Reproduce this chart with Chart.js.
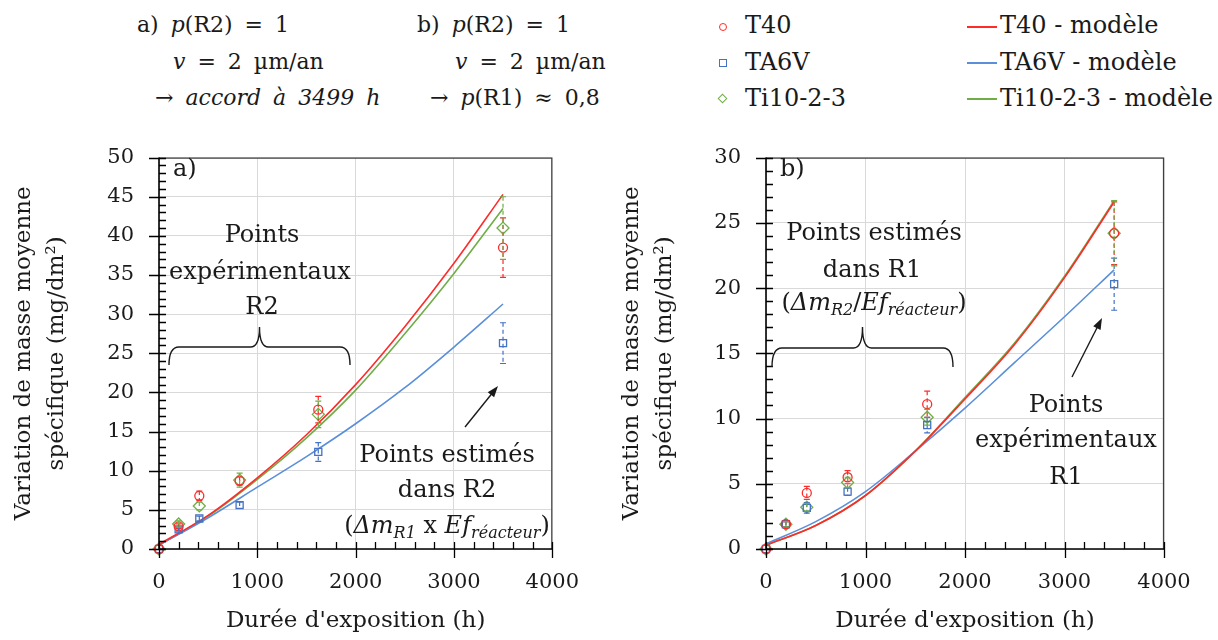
<!DOCTYPE html>
<html>
<head>
<meta charset="utf-8">
<script src="https://cdn.jsdelivr.net/npm/chart.js@4.4.0/dist/chart.umd.min.js"></script>
<style>
  body { margin: 0; background: #fff; width: 1218px; height: 640px; overflow: hidden; position: relative; font-family: "DejaVu Serif", serif; color: #1a1a1a; }
  canvas { position: absolute; }
  .t { position: absolute; white-space: pre; font-size: 22px; line-height: 22px; word-spacing: 5px; }
  .lg { position: absolute; white-space: pre; font-size: 24px; line-height: 24px; }
  .mk { position: absolute; box-sizing: border-box; }
  .ln { position: absolute; height: 2px; width: 30px; }
</style>
</head>
<body>
<!-- en-tetes des deux panneaux -->
<div class="t" style="left:137px;top:14px">a) <i>p</i>(R2) = 1</div>
<div class="t" style="left:173px;top:51px"><i>v</i> = 2 µm/an</div>
<div class="t" style="left:155px;top:87px">→ <i>accord à 3499 h</i></div>
<div class="t" style="left:417px;top:14px">b) <i>p</i>(R2) = 1</div>
<div class="t" style="left:455px;top:51px"><i>v</i> = 2 µm/an</div>
<div class="t" style="left:430px;top:87px">→ <i>p</i>(R1) ≈ 0,8</div>

<!-- legende -->
<div class="mk" style="left:719px;top:23px;width:8px;height:8px;border:1.3px solid #ff2a2a;border-radius:50%"></div>
<div class="mk" style="left:719px;top:59px;width:8px;height:8px;border:1.3px solid #4472c4"></div>
<div class="mk" style="left:719px;top:95px;width:7px;height:7px;border:1.3px solid #70ad47;transform:rotate(45deg)"></div>
<div class="lg" style="left:745px;top:13px">T40</div>
<div class="lg" style="left:745px;top:50px">TA6V</div>
<div class="lg" style="left:745px;top:86px">Ti10-2-3</div>
<div class="ln" style="left:967px;top:26px;background:#ff2a2a"></div>
<div class="ln" style="left:967px;top:62px;background:#5b8fd9"></div>
<div class="ln" style="left:967px;top:98px;background:#70ad47"></div>
<div class="lg" style="left:1000px;top:13px">T40 - modèle</div>
<div class="lg" style="left:1000px;top:50px">TA6V - modèle</div>
<div class="lg" style="left:1000px;top:86px">Ti10-2-3 - modèle</div>

<canvas id="chartA" width="600" height="520" style="left:0;top:120px"></canvas>
<canvas id="chartB" width="610" height="520" style="left:608px;top:120px"></canvas>

<script>
// durées d'exposition (h)
const xPts = [0, 200, 410, 820, 1620, 3499];
const xModel = [0, 500, 1000, 1500, 2000, 2500, 3000, 3499];
const xTicks = [0, 1000, 2000, 3000, 4000];

// a) p(R2) = 1 - points experimentaux R2
const aT40 = [0, 2.9, 6.8, 8.7, 17.8, 38.5];
const aT40Err = [0, 0.3, 0.6, 0.5, 1.7, 3.8];
const aTA6V = [0, 2.5, 3.9, 5.6, 12.4, 26.3];
const aTA6VErr = [0, 0.3, 0.3, 0.4, 1.2, 2.6];
const aTi = [0, 3.2, 5.5, 8.8, 17.2, 41.0];
const aTiErr = [0, 0.4, 0.5, 0.9, 1.7, 4.0];
const aT40Mod = [0.6, 4.3, 9.1, 14.6, 21.0, 28.4, 36.5, 45.3];
const aTA6VMod = [0.5, 4.0, 7.9, 11.8, 16.0, 20.6, 25.8, 31.3];
const aTiMod = [0.5, 4.2, 8.9, 14.2, 20.3, 27.5, 35.2, 43.5];
const aYTicks = [0, 5, 10, 15, 20, 25, 30, 35, 40, 45, 50];

// b) p(R1) ~ 0,8 - points experimentaux R1
const bT40 = [0, 1.9, 4.3, 5.5, 11.1, 24.2];
const bT40Err = [0, 0.2, 0.5, 0.5, 1.0, 2.4];
const bTA6V = [0, 1.9, 3.15, 4.4, 9.5, 20.3];
const bTA6VErr = [0, 0.2, 0.4, 0.3, 0.6, 2.0];
const bTi = [0, 1.9, 3.2, 5.1, 10.1, 24.2];
const bTiErr = [0, 0.2, 0.3, 0.4, 0.6, 2.5];
const bT40Mod = [0.3, 1.8, 4.1, 7.5, 11.5, 15.7, 20.8, 26.6];
const bTA6VMod = [0.4, 2.1, 4.4, 7.5, 10.8, 14.3, 17.8, 21.4];
const bTiMod = [0.3, 1.8, 4.1, 7.5, 11.6, 15.8, 20.9, 26.7];
const bYTicks = [0, 5, 10, 15, 20, 25, 30];

const RED = '#ff2a2a', BLUE = '#4472c4', BLUE_L = '#5b8fd9', GREEN = '#70ad47';
const F = '"DejaVu Serif", serif';
const INK = '#1a1a1a';

const pairs = (xs, ys) => xs.map((x, i) => ({ x: x, y: ys[i] }));

function pts(label, ys, err, color, style, r) {
  return { label, data: pairs(xPts, ys), errors: err, borderColor: color, backgroundColor: 'rgba(0,0,0,0)',
    pointStyle: style, pointRadius: r, pointBorderWidth: 1.3, showLine: false, clip: false, order: 0 };
}
function model(label, ys, color) {
  return { label, data: pairs(xModel, ys), borderColor: color, borderWidth: 1.6, pointRadius: 0,
    showLine: true, cubicInterpolationMode: 'monotone', clip: false, order: 1 };
}

// barres d'erreur (pointillés + petits chapeaux)
const errorBars = {
  id: 'errorBars',
  afterDatasetsDraw(chart) {
    const { ctx, scales: { x, y } } = chart;
    ctx.save();
    ctx.lineWidth = 1.2;
    chart.data.datasets.forEach(ds => {
      if (!ds.errors) return;
      ctx.strokeStyle = ds.borderColor;
      ds.data.forEach((p, i) => {
        const e = ds.errors[i];
        if (!e) return;
        const px = x.getPixelForValue(p.x);
        const y1 = y.getPixelForValue(p.y + e), y2 = y.getPixelForValue(p.y - e);
        ctx.setLineDash([4, 3]);
        ctx.beginPath(); ctx.moveTo(px, y1); ctx.lineTo(px, y2); ctx.stroke();
        ctx.setLineDash([]);
        ctx.beginPath();
        ctx.moveTo(px - 3, y1); ctx.lineTo(px + 3, y1);
        ctx.moveTo(px - 3, y2); ctx.lineTo(px + 3, y2);
        ctx.stroke();
      });
    });
    ctx.restore();
  }
};

// cadre + graduations vers l'intérieur
const frame = {
  id: 'frame',
  afterDraw(chart, args, opts) {
    const { ctx, chartArea: a, scales: { x, y } } = chart;
    ctx.save();
    ctx.strokeStyle = '#404040'; ctx.lineWidth = 1.2;
    ctx.beginPath();
    ctx.moveTo(a.left, a.top + 0.5); ctx.lineTo(a.right - 0.5, a.top + 0.5); ctx.lineTo(a.right - 0.5, a.bottom);
    ctx.stroke();
    ctx.strokeStyle = '#000'; ctx.lineWidth = 1.6;
    ctx.beginPath();
    ctx.moveTo(a.left, a.top); ctx.lineTo(a.left, a.bottom); ctx.lineTo(a.right, a.bottom);
    ctx.stroke();
    ctx.lineWidth = 1.3;
    ctx.beginPath();
    for (let v = x.min; v <= x.max + 1e-6; v += opts.minorX) {
      const px = Math.round(x.getPixelForValue(v)) + 0.5;
      const major = Math.abs(v % 1000) < 1e-6;
      ctx.moveTo(px, a.bottom - 7); ctx.lineTo(px, a.bottom + (major ? 9 : 0));
    }
    for (let v = y.min; v <= y.max + 1e-6; v += opts.minorY) {
      const py = Math.round(y.getPixelForValue(v)) + 0.5;
      const major = Math.abs(v % 5) < 1e-6;
      ctx.moveTo(a.left - (major ? 10 : 0), py); ctx.lineTo(a.left + 7, py);
    }
    ctx.stroke();
    ctx.restore();
  }
};

function rich(ctx, parts, cx, base) {
  let w = 0;
  parts.forEach(p => { ctx.font = p[1]; w += ctx.measureText(p[0]).width; });
  let x = cx - w / 2;
  parts.forEach(p => { ctx.font = p[1]; ctx.fillText(p[0], x, base + (p[2] || 0)); x += ctx.measureText(p[0]).width; });
}
function brace(ctx, x1, x2, yEnd, yMid, yPeak) {
  const xm = (x1 + x2) / 2;
  ctx.beginPath();
  ctx.moveTo(x1, yEnd);
  ctx.quadraticCurveTo(x1, yMid, x1 + 10, yMid);
  ctx.lineTo(xm - 9, yMid);
  ctx.quadraticCurveTo(xm, yMid, xm, yPeak);
  ctx.quadraticCurveTo(xm, yMid, xm + 9, yMid);
  ctx.lineTo(x2 - 10, yMid);
  ctx.quadraticCurveTo(x2, yMid, x2, yEnd);
  ctx.stroke();
}
function arrow(ctx, x1, y1, x2, y2) {
  const ang = Math.atan2(y2 - y1, x2 - x1), L = 12, W = 0.35;
  ctx.beginPath(); ctx.moveTo(x1, y1); ctx.lineTo(x2 - L * 0.8 * Math.cos(ang), y2 - L * 0.8 * Math.sin(ang)); ctx.stroke();
  ctx.beginPath();
  ctx.moveTo(x2, y2);
  ctx.lineTo(x2 - L * Math.cos(ang - W), y2 - L * Math.sin(ang - W));
  ctx.lineTo(x2 - L * Math.cos(ang + W), y2 - L * Math.sin(ang + W));
  ctx.closePath(); ctx.fill();
}

const R24 = `24px ${F}`, I24 = `italic 24px ${F}`, I16 = `italic 16px ${F}`;

const notesA = {
  id: 'notesA',
  afterDraw(chart) {
    const ctx = chart.ctx;
    ctx.save();
    ctx.fillStyle = INK; ctx.strokeStyle = INK; ctx.lineWidth = 1.4;
    ctx.textAlign = 'left'; ctx.textBaseline = 'alphabetic';
    ctx.font = R24; ctx.fillText('a)', 173, 56);
    rich(ctx, [['Points', R24]], 262, 122);
    rich(ctx, [['expérimentaux', R24]], 260, 159);
    rich(ctx, [['R2', R24]], 262, 194);
    brace(ctx, 169, 350, 245, 227, 207);
    arrow(ctx, 465, 307, 498, 266);
    rich(ctx, [['Points estimés', R24]], 447, 342);
    rich(ctx, [['dans R2', R24]], 447, 377);
    rich(ctx, [['(', R24], ['Δm', I24], ['R1', I16, 5], [' x ', R24], ['Ef', I24], ['réacteur', I16, 5], [')', R24]], 447, 413);
    ctx.restore();
  }
};
const notesB = {
  id: 'notesB',
  afterDraw(chart) {
    const ctx = chart.ctx;
    ctx.save();
    ctx.fillStyle = INK; ctx.strokeStyle = INK; ctx.lineWidth = 1.4;
    ctx.textAlign = 'left'; ctx.textBaseline = 'alphabetic';
    ctx.font = R24; ctx.fillText('b)', 172, 56);
    rich(ctx, [['Points estimés', R24]], 266, 120);
    rich(ctx, [['dans R1', R24]], 264, 157);
    rich(ctx, [['(', R24], ['Δm', I24], ['R2', I16, 5], ['/', R24], ['Ef', I24], ['réacteur', I16, 5], [')', R24]], 266, 190);
    brace(ctx, 164, 345, 247, 228, 207);
    arrow(ctx, 464, 257, 494, 198);
    rich(ctx, [['Points', R24]], 458, 292);
    rich(ctx, [['expérimentaux', R24]], 458, 327);
    rich(ctx, [['R1', R24]], 458, 364);
    ctx.restore();
  }
};

function makeChart(id, datasets, yMax, yWidth, padRight, notes) {
  return new Chart(document.getElementById(id), {
    type: 'scatter',
    data: { datasets },
    plugins: [errorBars, frame, notes],
    options: {
      responsive: false,
      animation: false,
      layout: { padding: { top: 19, right: padRight, left: 0, bottom: 0 } },
      plugins: { legend: { display: false }, tooltip: { enabled: false }, frame: { minorX: 200, minorY: 1 } },
      scales: {
        x: {
          min: 0, max: 4000,
          afterFit: s => { s.height = 91; },
          afterBuildTicks: s => { s.ticks = xTicks.map(v => ({ value: v })); },
          ticks: { callback: v => String(v), color: INK, padding: 21, font: { family: F, size: 21 }, maxRotation: 0 },
          grid: { color: '#d9d9d9', lineWidth: 1, drawTicks: false },
          border: { display: false },
          title: { display: true, text: "Durée d'exposition (h)", color: INK, font: { family: F, size: 23, lineHeight: 1.43 }, padding: { top: 0, bottom: 3 } }
        },
        y: {
          min: 0, max: yMax,
          afterFit: s => { s.width = yWidth; },
          afterBuildTicks: s => { s.ticks = (yMax === 50 ? aYTicks : bYTicks).map(v => ({ value: v })); },
          ticks: { callback: v => String(v), color: INK, padding: 25, font: { family: F, size: 21 } },
          grid: { color: '#d9d9d9', lineWidth: 1, drawTicks: false },
          border: { display: false },
          title: { display: true, text: ['Variation de masse moyenne', 'spécifique (mg/dm²)'], color: INK,
            font: { family: F, size: 23, lineHeight: 1.43 }, padding: { top: 8, bottom: 0 } }
        }
      }
    }
  });
}

makeChart('chartA', [
  pts('T40', aT40, aT40Err, RED, 'circle', 4.5),
  pts('TA6V', aTA6V, aTA6VErr, BLUE, 'rect', 5),
  pts('Ti10-2-3', aTi, aTiErr, GREEN, 'rectRot', 6),
  model('T40 - modèle', aT40Mod, RED),
  model('TA6V - modèle', aTA6VMod, BLUE_L),
  model('Ti10-2-3 - modèle', aTiMod, GREEN)
], 50, 159, 43, notesA);

makeChart('chartB', [
  pts('T40', bT40, bT40Err, RED, 'circle', 4.5),
  pts('TA6V', bTA6V, bTA6VErr, BLUE, 'rect', 5),
  pts('Ti10-2-3', bTi, bTiErr, GREEN, 'rectRot', 6),
  model('T40 - modèle', bT40Mod, RED),
  model('TA6V - modèle', bTA6VMod, BLUE_L),
  model('Ti10-2-3 - modèle', bTiMod, GREEN)
], 30, 158, 54, notesB);
</script>
</body>
</html>
